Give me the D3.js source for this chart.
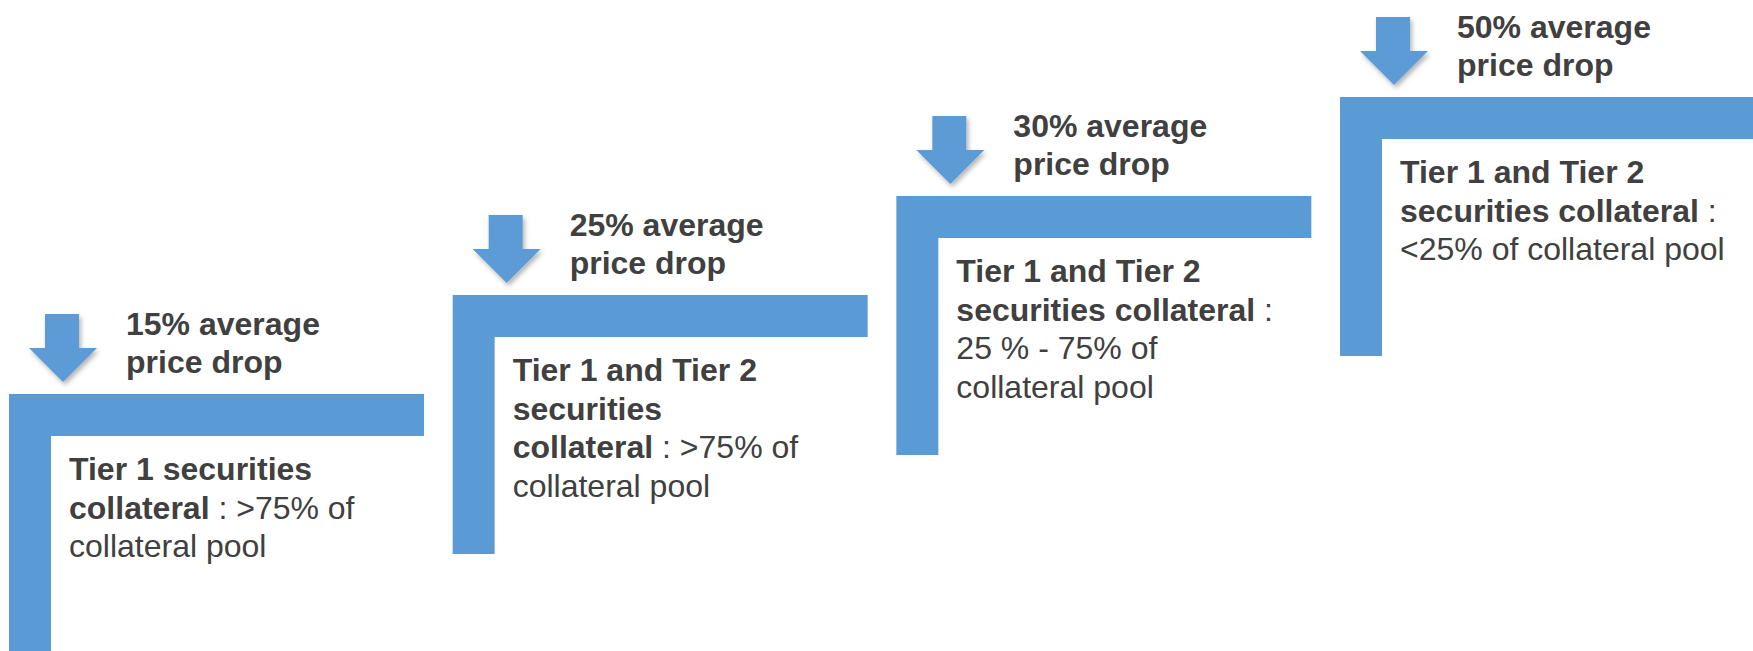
<!DOCTYPE html>
<html>
<head>
<meta charset="utf-8">
<script src="https://cdn.jsdelivr.net/npm/d3@7"></script>
<style>
  body { margin: 0; background: #fff; }
  text { font-family: "Liberation Sans", Arial, sans-serif; fill: #404040; }
</style>
</head>
<body>
<div id="stairs"></div>
<script>
var svgWidth = 1753;
var svgHeight = 651;

// steps, left to right
var steps = ["step1", "step2", "step3", "step4"];
var priceDrops = [15, 25, 30, 50];
var headerLines = ["% average", "price drop"];

// body text, one array of [text, bold] pieces per line
var bodyStep1 = [
  [["Tier 1 securities", true]],
  [["collateral", true], [" : >75% of", false]],
  [["collateral pool", false]]
];
var bodyStep2 = [
  [["Tier 1 and Tier 2", true]],
  [["securities", true]],
  [["collateral", true], [" : >75% of", false]],
  [["collateral pool", false]]
];
var bodyStep3 = [
  [["Tier 1 and Tier 2", true]],
  [["securities collateral", true], [" :", false]],
  [["25 % - 75% of", false]],
  [["collateral pool", false]]
];
var bodyStep4 = [
  [["Tier 1 and Tier 2", true]],
  [["securities collateral", true], [" :", false]],
  [["<25% of collateral pool", false]]
];
var bodies = [bodyStep1, bodyStep2, bodyStep3, bodyStep4];

var blue = "#5b9bd5";
var stepW = 415, stepH = 259, thick = 42;

var svg = d3.select("#stairs")
  .append("svg")
  .attr("width", svgWidth)
  .attr("height", svgHeight);

var defs = svg.append("defs");
var shadow = defs.append("filter")
  .attr("id", "shadow")
  .attr("x", "-30%").attr("y", "-30%")
  .attr("width", "160%").attr("height", "160%");
shadow.append("feDropShadow")
  .attr("dx", 2).attr("dy", 3)
  .attr("stdDeviation", 2.5)
  .attr("flood-color", "#000")
  .attr("flood-opacity", 0.3);

// position of each step's corner
var xScale = d3.scalePoint().domain(steps).range([9, 1340]);
var yScale = d3.scalePoint().domain(steps).range([394, 97]);

var data = steps.map(function(s, i) {
  return { key: s, drop: priceDrops[i], body: bodies[i] };
});

var stepGroups = svg.selectAll("g.step")
  .data(data)
  .enter()
  .append("g")
  .attr("class", "step")
  .attr("transform", d => `translate(${xScale(d.key)}, ${yScale(d.key)})`);

// L shaped stair
stepGroups.append("path")
  .attr("d", `M0,0 H${stepW} V${thick} H${thick} V${stepH} H0 Z`)
  .attr("fill", blue);

// down arrow
stepGroups.append("path")
  .attr("d", "M36,-80 H70 V-46 H88 L54,-12 L20,-46 H36 Z")
  .attr("fill", blue)
  .attr("filter", "url(#shadow)");

// header text
var header = stepGroups.append("text")
  .attr("x", 117)
  .attr("y", -59)
  .style("font-size", "32px")
  .style("font-weight", "bold");
header.append("tspan")
  .attr("x", 117)
  .text(d => d.drop + headerLines[0]);
header.append("tspan")
  .attr("x", 117)
  .attr("dy", 37.5)
  .text(headerLines[1]);

// body text
stepGroups.each(function(d) {
  var g = d3.select(this);
  var t = g.append("text")
    .attr("x", 60)
    .attr("y", 86)
    .style("font-size", "32px");
  d.body.forEach(function(line, li) {
    line.forEach(function(piece, pi) {
      var ts = t.append("tspan")
        .style("font-weight", piece[1] ? "bold" : "normal")
        .text(piece[0]);
      if (pi === 0) {
        ts.attr("x", 60).attr("dy", li === 0 ? 0 : 38.5);
      }
    });
  });
});
</script>
</body>
</html>
